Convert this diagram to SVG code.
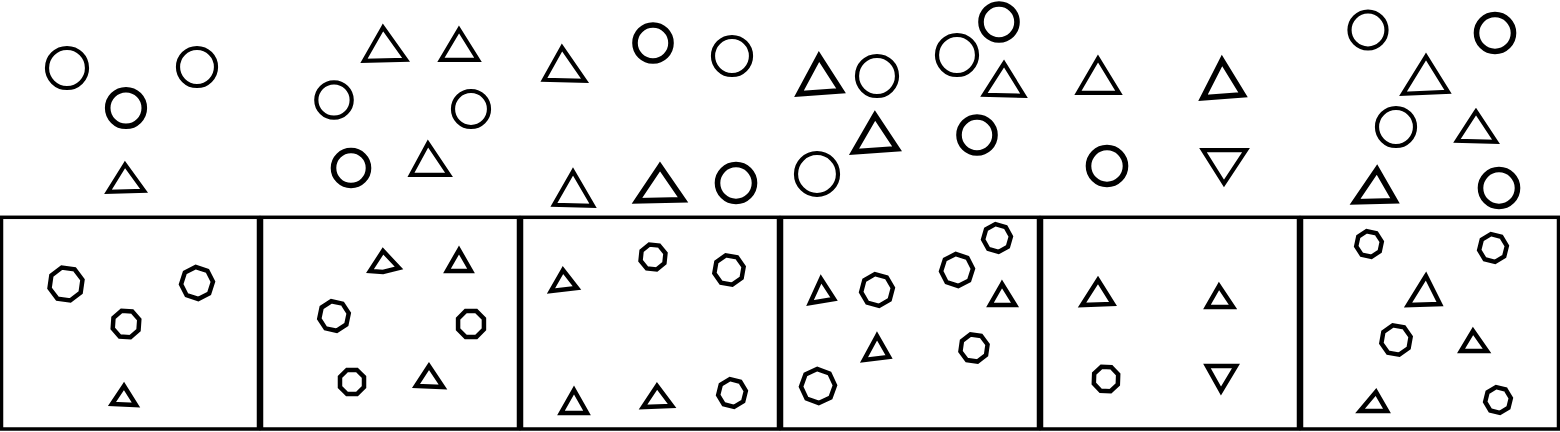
<svg xmlns="http://www.w3.org/2000/svg" xmlns:xlink="http://www.w3.org/1999/xlink" width="1560" height="432" viewBox="0 0 1560 432">
<style>
.s{fill:none;stroke:#000;stroke-width:4.2;stroke-linejoin:miter}
.t{fill:none;stroke:#000;stroke-width:5.6;stroke-linejoin:miter}
.o{fill:none;stroke:#000;stroke-width:4.5;stroke-linejoin:miter}
.box{fill:#fff;stroke:#000;stroke-width:3.5}
</style>
<defs>
<polygon id="o13" class="o" points="4.97,-12.01 12.01,-4.97 12.01,4.97 4.97,12.01 -4.97,12.01 -12.01,4.97 -12.01,-4.97 -4.97,-12.01"/>
<polygon id="o14" class="o" points="5.36,-12.93 12.93,-5.36 12.93,5.36 5.36,12.93 -5.36,12.93 -12.93,5.36 -12.93,-5.36 -5.36,-12.93"/>
<polygon id="o15" class="o" points="5.74,-13.86 13.86,-5.74 13.86,5.74 5.74,13.86 -5.74,13.86 -13.86,5.74 -13.86,-5.74 -5.74,-13.86"/>
<polygon id="o16" class="o" points="6.12,-14.78 14.78,-6.12 14.78,6.12 6.12,14.78 -6.12,14.78 -14.78,6.12 -14.78,-6.12 -6.12,-14.78"/>
<polygon id="o17" class="o" points="6.51,-15.71 15.71,-6.51 15.71,6.51 6.51,15.71 -6.51,15.71 -15.71,6.51 -15.71,-6.51 -6.51,-15.71"/>
</defs>
<rect width="1560" height="432" fill="#fff"/>

<g id="top-row">
<g id="top-1">
<circle class="s" cx="67" cy="68" r="20"/>
<circle class="t" cx="126" cy="108" r="18.3"/>
<circle class="s" cx="197" cy="67" r="19"/>
<polygon class="s" points="125,164.5 108,191.8 144,190.8"/>
</g>
<g id="top-2">
<polygon class="s" points="383,27.5 364,60.8 406,59.8"/>
<polygon class="s" points="459,29.5 441,59.8 478,59.8"/>
<circle class="s" cx="334" cy="100" r="17.7"/>
<circle class="s" cx="471" cy="109" r="18"/>
<circle class="t" cx="351" cy="168" r="17.5"/>
<polygon class="s" points="428,143.5 411,174.8 449,174.8"/>
</g>
<g id="top-3">
<polygon class="s" points="562,47.5 544,79.8 585,80.8"/>
<circle class="t" cx="653" cy="43" r="18"/>
<circle class="s" cx="732" cy="56" r="19"/>
<polygon class="s" points="573,171.5 554,204.8 593,205.8"/>
<polygon class="t" points="660,166.5 637,200.8 683,199.8"/>
<circle class="t" cx="736" cy="183" r="18.5"/>
</g>
<g id="top-4">
<polygon class="t" points="819,56.5 799,93.8 841,90.8"/>
<circle class="s" cx="877" cy="76" r="20"/>
<circle class="s" cx="957" cy="55" r="20"/>
<circle class="t" cx="999" cy="22" r="18"/>
<polygon class="s" points="1004,63.5 984,94.8 1024,95.8"/>
<polygon class="t" points="875,115.5 854,151.8 897,148.8"/>
<circle class="t" cx="977" cy="135" r="18"/>
<circle class="s" cx="817" cy="174" r="21"/>
</g>
<g id="top-5">
<polygon class="s" points="1098,58.5 1078,92.8 1119,92.8"/>
<polygon class="t" points="1222,60.5 1203,97.8 1243,94.8"/>
<circle class="t" cx="1107" cy="166" r="18.5"/>
<polygon class="s" points="1203,150.2 1246,150.2 1224,183.5"/>
</g>
<g id="top-6">
<circle class="s" cx="1368" cy="30" r="18.5"/>
<circle class="t" cx="1495" cy="33" r="18.5"/>
<polygon class="s" points="1426,56.5 1403,93.8 1448,91.8"/>
<circle class="s" cx="1396" cy="127" r="19"/>
<polygon class="s" points="1476,111.5 1457,140.8 1496,141.8"/>
<polygon class="t" points="1377,169.5 1355,201.8 1395,200.8"/>
<circle class="t" cx="1499" cy="188" r="18.5"/>
</g>
</g>

<g id="bottom-row">
<g id="box-1">
<rect class="box" x="1.5" y="217.3" width="257" height="211.7"/>
<use href="#o17" xlink:href="#o17" transform="translate(66,284) rotate(8)"/>
<use href="#o16" xlink:href="#o16" transform="translate(197,283) rotate(18)"/>
<use href="#o14" xlink:href="#o14" transform="translate(126,324) rotate(4)"/>
<polygon class="o" points="124,386 112,404 136,405"/>
</g>
<g id="box-2">
<rect class="box" x="261.5" y="217.3" width="257" height="211.7"/>
<polygon class="o" points="383,251 370,271 383,272 399,268"/>
<polygon class="o" points="459,250 447,271 471,271"/>
<use href="#o15" xlink:href="#o15" transform="translate(334,316) rotate(12)"/>
<use href="#o14" xlink:href="#o14" transform="translate(471,324)"/>
<use href="#o13" xlink:href="#o13" transform="translate(352,382)"/>
<polygon class="o" points="429,366 416,386 443,387"/>
</g>
<g id="box-3">
<rect class="box" x="521.5" y="217.3" width="257" height="211.7"/>
<polygon class="o" points="563,270 551,291 577,288"/>
<use href="#o13" xlink:href="#o13" transform="translate(653,257) rotate(6)"/>
<use href="#o15" xlink:href="#o15" transform="translate(729,270) rotate(10)"/>
<polygon class="o" points="574,390 561,413 587,413"/>
<polygon class="o" points="657,386 643,407 672,406"/>
<use href="#o14" xlink:href="#o14" transform="translate(732,393) rotate(14)"/>
</g>
<g id="box-4">
<rect class="box" x="781.5" y="217.3" width="257" height="211.7"/>
<polygon class="o" points="821,279 810,303 834,299"/>
<use href="#o16" xlink:href="#o16" transform="translate(877,290) rotate(15)"/>
<use href="#o16" xlink:href="#o16" transform="translate(957,270) rotate(18)"/>
<use href="#o14" xlink:href="#o14" transform="translate(997,238) rotate(16)"/>
<polygon class="o" points="1002,284 990,305 1015,305"/>
<polygon class="o" points="877,336 864,360 889,357"/>
<use href="#o14" xlink:href="#o14" transform="translate(974,348) rotate(8)"/>
<use href="#o17" xlink:href="#o17" transform="translate(818,386) rotate(20)"/>
</g>
<g id="box-5">
<rect class="box" x="1041.5" y="217.3" width="257" height="211.7"/>
<polygon class="o" points="1098,280 1082,305 1113,304"/>
<polygon class="o" points="1219,286 1207,307 1233,307"/>
<use href="#o13" xlink:href="#o13" transform="translate(1106,379) rotate(2)"/>
<polygon class="o" points="1207,366 1236,366 1221,391"/>
</g>
<g id="box-6">
<rect class="box" x="1301.5" y="217.3" width="257" height="211.7"/>
<use href="#o13" xlink:href="#o13" transform="translate(1369,244) rotate(12)"/>
<use href="#o14" xlink:href="#o14" transform="translate(1493,248) rotate(14)"/>
<polygon class="o" points="1426,276 1408,305 1440,304"/>
<use href="#o15" xlink:href="#o15" transform="translate(1396,340) rotate(10)"/>
<polygon class="o" points="1473,331 1461,351 1487,351"/>
<polygon class="o" points="1376,392 1360,411 1387,411"/>
<use href="#o13" xlink:href="#o13" transform="translate(1498,400) rotate(14)"/>
</g>
</g>
<g id="connectors"/>
</svg>
